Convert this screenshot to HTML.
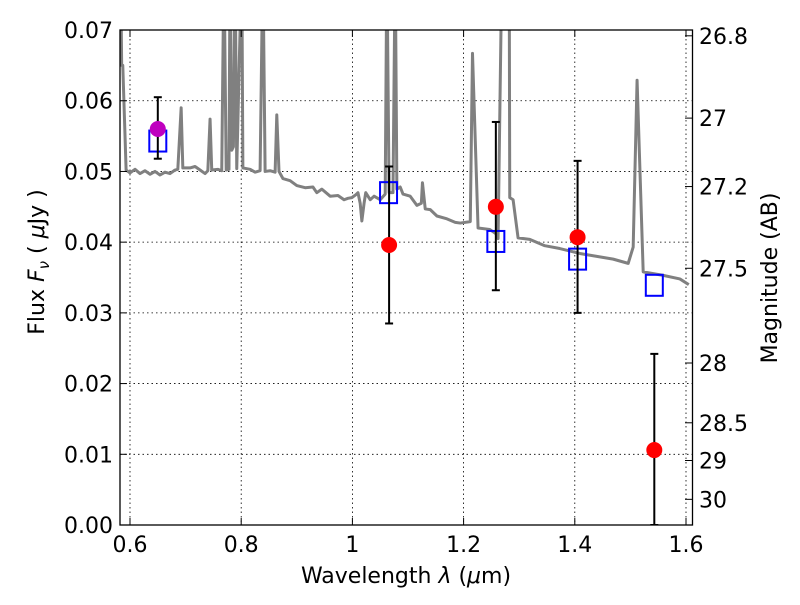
<!DOCTYPE html>
<html><head><meta charset="utf-8"><style>
body{margin:0;background:#fff}
svg text{font-family:"DejaVu Sans","Liberation Sans",sans-serif;fill:#000}
</style></head><body>
<svg id="chart" width="800" height="600" viewBox="0 0 800 600" xmlns="http://www.w3.org/2000/svg">
<defs><clipPath id="plotclip"><rect x="120" y="30" width="572.5" height="495"/></clipPath></defs>
<rect width="800" height="600" fill="#fff"/>
<g id="grid"></g>
<g id="spec" clip-path="url(#plotclip)"></g>
<g id="marks" clip-path="url(#plotclip)"></g>
<rect x="120" y="30" width="572.5" height="495" fill="none" stroke="#000" stroke-width="1.3"/>
<g id="axes"></g>
<text x="406" y="583" font-size="22" text-anchor="middle">Wavelength  <tspan font-style="italic">λ</tspan> (<tspan font-style="italic">μ</tspan>m)</text>
<text transform="translate(44,262) rotate(-90)" font-size="22" text-anchor="middle">Flux  <tspan font-style="italic">F</tspan><tspan font-style="italic" font-size="15" dy="5">ν</tspan><tspan dy="-5">  ( </tspan><tspan font-style="italic">μ</tspan>Jy )</text>
<text transform="translate(777,278) rotate(-90)" font-size="22" text-anchor="middle">Magnitude (AB)</text>
</svg>
<script>
const specWave=[0.583,0.585,0.587,0.593,0.600,0.609,0.618,0.627,0.636,0.645,0.654,0.663,0.672,0.681,0.686,0.692,0.695,0.708,0.717,0.726,0.735,0.740,0.744,0.747,0.758,0.765,0.769,0.773,0.778,0.780,0.783,0.786,0.789,0.792,0.801,0.803,0.816,0.825,0.834,0.839,0.843,0.852,0.861,0.864,0.868,0.875,0.888,0.900,0.915,0.929,0.936,0.945,0.960,0.974,0.985,0.992,0.999,1.006,1.010,1.014,1.017,1.021,1.024,1.032,1.039,1.050,1.059,1.062,1.066,1.073,1.077,1.080,1.086,1.091,1.104,1.116,1.124,1.126,1.131,1.140,1.152,1.170,1.185,1.194,1.212,1.216,1.226,1.247,1.258,1.262,1.269,1.282,1.283,1.289,1.298,1.319,1.346,1.373,1.409,1.469,1.496,1.505,1.512,1.523,1.559,1.589,1.605];
const specFlux=[0.08,0.065,0.065,0.0502,0.0498,0.0503,0.0497,0.0501,0.0496,0.0500,0.0495,0.0499,0.0497,0.0502,0.0503,0.059,0.0505,0.0505,0.0507,0.0502,0.0497,0.0501,0.0574,0.0502,0.0503,0.0501,0.08,0.0502,0.0503,0.08,0.053,0.0535,0.08,0.0504,0.08,0.0505,0.0503,0.0499,0.0501,0.08,0.05,0.0501,0.0499,0.058,0.05,0.049,0.0487,0.048,0.0477,0.0478,0.047,0.0475,0.0465,0.0466,0.046,0.0462,0.0463,0.0467,0.047,0.0455,0.043,0.0455,0.047,0.046,0.0465,0.046,0.0468,0.08,0.047,0.047,0.08,0.0475,0.0478,0.0468,0.0465,0.0452,0.0455,0.0484,0.0447,0.0446,0.0437,0.0433,0.0428,0.0427,0.0429,0.0667,0.042,0.0418,0.0412,0.0405,0.08,0.08,0.0463,0.046,0.0406,0.0404,0.0395,0.0391,0.0384,0.0376,0.037,0.0393,0.0629,0.0358,0.0353,0.0348,0.034];
const obsWave=[1.066,1.258,1.405,1.543];
const obsFlux=[0.0396,0.045,0.0407,0.0106];
const obsLo=[0.0285,0.0332,0.030,0.0];
const obsHi=[0.0507,0.057,0.0515,0.0242];
const extraWave=[0.650];
const extraFlux=[0.056];
const extraLo=[0.0518];
const extraHi=[0.0605];
const modelWave=[0.650,1.065,1.258,1.405,1.543];
const modelFlux=[0.0543,0.047,0.0401,0.0376,0.0339];
const xTicks=[0.6,0.8,1.0,1.2,1.4,1.6];
const xTickLabels=["0.6","0.8","1","1.2","1.4","1.6"];
const yTicks=[0,0.01,0.02,0.03,0.04,0.05,0.06,0.07];
const yTickLabels=["0.00","0.01","0.02","0.03","0.04","0.05","0.06","0.07"];
const magTicks=[26.8,27,27.2,27.5,28,28.5,29,30];

const NS="http://www.w3.org/2000/svg";
const X=w=>130+(w-0.6)*556;
const Y=f=>525-f*7071;
const magToFlux=m=>Math.pow(10,-(m-23.9)/2.5);
function mk(tag,attrs,parent){const e=document.createElementNS(NS,tag);for(const k in attrs)e.setAttribute(k,attrs[k]);parent.appendChild(e);return e;}
const grid=document.getElementById('grid'),axes=document.getElementById('axes'),spec=document.getElementById('spec'),marks=document.getElementById('marks');
xTicks.forEach((t,i)=>{
  const g=mk('line',{x1:X(t),x2:X(t),y1:30,y2:525,stroke:'#000','stroke-width':0.8,'stroke-dasharray':'1.5,3'},grid);
  
  
  mk('line',{x1:X(t),x2:X(t),y1:525,y2:518,stroke:'#000'},axes);
  mk('line',{x1:X(t),x2:X(t),y1:30,y2:37,stroke:'#000'},axes);
  const tx=mk('text',{x:X(t),y:552,'font-size':22,'text-anchor':'middle'},axes);tx.textContent=xTickLabels[i];
  
  
});
yTicks.forEach((t,i)=>{
  const g=mk('line',{x1:120,x2:692,y1:Y(t),y2:Y(t),stroke:'#000','stroke-width':0.8,'stroke-dasharray':'1.5,3'},grid);
  
  
  mk('line',{x1:120,x2:127,y1:Y(t),y2:Y(t),stroke:'#000'},axes);
  const tx=mk('text',{x:113,y:Y(t)+8,'font-size':22,'text-anchor':'end'},axes);tx.textContent=yTickLabels[i];
  
  
});
magTicks.forEach(m=>{
  const y=Y(magToFlux(m));
  mk('line',{x1:692,x2:685,y1:y,y2:y,stroke:'#000'},axes);
  const tx=mk('text',{x:699,y:y+8,'font-size':22},axes);tx.textContent=String(m);
  
  
});
const pl=mk('polyline',{points:specWave.map((w,i)=>X(w)+','+Y(specFlux[i])).join(' '),fill:'none',stroke:'#808080','stroke-width':3,'stroke-linejoin':'round'},spec);


function errbar(w,lo,hi){
  const g=mk('g',{},marks);
  
  
  mk('line',{x1:X(w),x2:X(w),y1:Y(lo),y2:Y(hi),stroke:'#000','stroke-width':2},g);
  mk('line',{x1:X(w)-4,x2:X(w)+4,y1:Y(lo),y2:Y(lo),stroke:'#000','stroke-width':2},g);
  mk('line',{x1:X(w)-4,x2:X(w)+4,y1:Y(hi),y2:Y(hi),stroke:'#000','stroke-width':2},g);
}
modelWave.forEach((w,i)=>{
  const r=mk('rect',{x:X(w)-8.5,y:Y(modelFlux[i])-10.5,width:17,height:21,fill:'none',stroke:'#0000ff','stroke-width':2},marks);
  
  
});
extraWave.forEach((w,i)=>{
  errbar(w,extraLo[i],extraHi[i]);
  const c=mk('circle',{cx:X(w),cy:Y(extraFlux[i]),r:8,fill:'#bf00bf'},marks);
  
  
});
obsWave.forEach((w,i)=>{
  errbar(w,obsLo[i],obsHi[i]);
  const c=mk('circle',{cx:X(w),cy:Y(obsFlux[i]),r:8,fill:'#ff0000'},marks);
  
  
});
</script>
</body></html>
